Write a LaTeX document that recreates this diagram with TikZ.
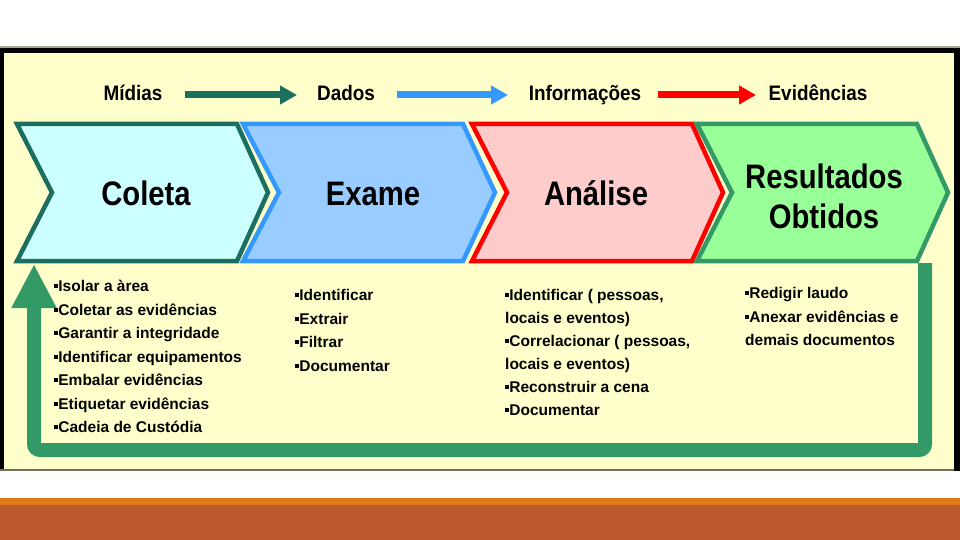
\documentclass[tikz,border=0pt]{standalone}
\usepackage{fontspec}
\usepackage{graphicx}
\setmainfont{Liberation Sans}
\usetikzlibrary{arrows.meta}
\definecolor{panelfill}{HTML}{FFFFCC}
\definecolor{topline}{HTML}{A8A890}
\definecolor{botline}{HTML}{707060}
\definecolor{colfill}{HTML}{CCFFFF}
\definecolor{coldraw}{HTML}{1C6E5E}
\definecolor{exafill}{HTML}{99CCFF}
\definecolor{exadraw}{HTML}{3399FF}
\definecolor{anafill}{HTML}{FFCCCC}
\definecolor{anadraw}{HTML}{FF0000}
\definecolor{resfill}{HTML}{99FF99}
\definecolor{resdraw}{HTML}{339966}
\definecolor{loopgreen}{HTML}{339966}
\definecolor{bandorange}{HTML}{E07B18}
\definecolor{bandbrown}{HTML}{BC5A2E}
\newcommand{\mybul}{\rule[0.22em]{0.27em}{0.27em}}
\newcommand{\cond}[1]{\scalebox{0.86}[1]{#1}}
\newcommand{\hcond}[1]{\scalebox{0.9}[1]{#1}}
\begin{document}
\begin{tikzpicture}[x=1pt,y=-1pt,
  chev/.style={line width=4.5pt, line join=miter},
  title/.style={font=\fontsize{34}{39}\selectfont\bfseries, inner sep=0pt, anchor=base},
  header/.style={font=\fontsize{21}{24}\selectfont\bfseries, inner sep=0pt, anchor=base},
  hdrarrow/.style={line width=7pt, -{Triangle[length=17pt,width=18pt]}},
  listtext/.style={font=\fontsize{15.5}{23.5}\selectfont\bfseries, inner sep=0pt, align=left, anchor=north west}
]
\useasboundingbox (0,0) rectangle (960,540);
\fill[white] (0,0) rectangle (960,540);
% panel
\fill[panelfill] (0,46) rectangle (960,471);
\fill[topline] (0,46) rectangle (960,48);
\fill[black] (0,48) rectangle (960,53);
\fill[black] (0,48) rectangle (4,470);
\fill[black] (954,48) rectangle (960,471);
\fill[botline] (0,469) rectangle (954,471);
% bottom band
\fill[bandorange] (0,498) rectangle (960,505);
\fill[bandbrown] (0,505) rectangle (960,540);

% header
\node[header] (midias) at (133,101) {\hcond{Mídias}};
\node[header] (dados) at (346,101) {\hcond{Dados}};
\node[header] (info) at (585,101) {\hcond{Informações}};
\node[header] (evid) at (818,101) {\hcond{Evidências}};
\coordinate (a1s) at (185,95); \coordinate (a1e) at (297,95);
\coordinate (a2s) at (397,95); \coordinate (a2e) at (508,95);
\coordinate (a3s) at (658,95); \coordinate (a3e) at (756,95);
\draw[hdrarrow, coldraw] (a1s) -- (a1e);
\draw[hdrarrow, exadraw] (a2s) -- (a2e);
\draw[hdrarrow, anadraw] (a3s) -- (a3e);

% feedback loop
\coordinate (ls) at (925,263);
\coordinate (lc1) at (925,450);
\coordinate (lc2) at (34,450);
\coordinate (le) at (34,264);
\draw[loopgreen, line width=14pt, rounded corners=6pt, -{Triangle[length=44pt,width=42pt]}]
  (ls) -- (lc1) -- (lc2) -- (le);

% chevrons
\draw[chev, fill=colfill, draw=coldraw] (17,124) -- (237,124) -- (268,192.5) -- (237,261) -- (17,261) -- (52,192.5) -- cycle;
\draw[chev, fill=exafill, draw=exadraw] (243,124) -- (463,124) -- (495,192.5) -- (463,261) -- (243,261) -- (279,192.5) -- cycle;
\draw[chev, fill=anafill, draw=anadraw] (472,124) -- (692,124) -- (723,192.5) -- (692,261) -- (472,261) -- (507,192.5) -- cycle;
\draw[chev, fill=resfill, draw=resdraw] (697,124) -- (917,124) -- (948,192.5) -- (917,261) -- (697,261) -- (732,192.5) -- cycle;

\node[title] (coleta) at (146,205) {\cond{Coleta}};
\node[title] (exame) at (373,205) {\cond{Exame}};
\node[title] (analise) at (596,205) {\cond{Análise}};
\node[title] (result) at (824,189) {\cond{Resultados}};
\node[title] (obtidos) at (824,228) {\cond{Obtidos}};

% lists
\node[listtext] (lcol) at (54,275) {\strut\mybul Isolar a àrea\\\mybul Coletar as evidências\\\mybul Garantir a integridade\\\mybul Identificar equipamentos\\\mybul Embalar evidências\\\mybul Etiquetar evidências\\\mybul Cadeia de Custódia};
\node[listtext] (lexa) at (295,284) {\strut\mybul Identificar\\\mybul Extrair\\\mybul Filtrar\\\mybul Documentar};
\node[listtext, font=\fontsize{15.5}{23}\selectfont\bfseries] (lana) at (505,284) {\strut\mybul Identificar ( pessoas,\\locais e eventos)\\\mybul Correlacionar ( pessoas,\\locais e eventos)\\\mybul Reconstruir a cena\\\mybul Documentar};
\node[listtext] (lres) at (745,282) {\strut\mybul Redigir laudo\\\mybul Anexar evidências e\\demais documentos};
\end{tikzpicture}
\end{document}
